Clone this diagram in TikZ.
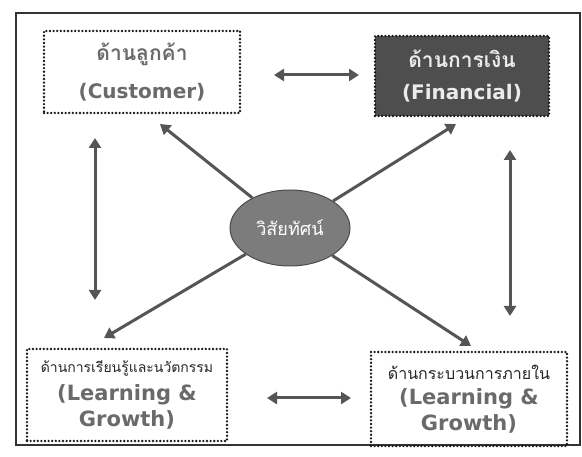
\documentclass[tikz,border=0pt]{standalone}
\usepackage{fontspec}
\newfontfamily\thaifont[Script=Thai]{Loma}
\newfontfamily\latfont{DejaVu Sans}
\usetikzlibrary{shapes.geometric,arrows.meta}
\definecolor{txtgray}{HTML}{6A6A6A}
\definecolor{arrgray}{HTML}{555555}
\definecolor{darkbox}{HTML}{4E4E4E}
\definecolor{ellgray}{HTML}{7C7C7C}
\tikzset{
  dotbox/.style={draw=black!90, line width=2.6pt, dash pattern=on 0pt off 3.6pt, line cap=round, align=center, inner sep=0pt},
  conn/.style={draw=arrgray, line width=3pt, -{Triangle[width=12pt,length=10pt]}},
  biconn/.style={draw=arrgray, line width=3pt, {Triangle[width=12pt,length=10pt]}-{Triangle[width=12pt,length=10pt]}}
}
\begin{document}
\begin{tikzpicture}[x=1pt,y=-1pt]
\useasboundingbox (0,0) rectangle (582,457);
\fill[white] (0,0) rectangle (582,457);
\node[draw=black!80, line width=1.5pt, minimum width=564pt, minimum height=432pt, inner sep=0pt] (frame) at (298,229) {};
% boxes
\node[dotbox, minimum width=196pt, minimum height=82pt, text=txtgray] (cust) at (142,72)
  {{\thaifont\bfseries\fontsize{21}{26}\selectfont ด้านลูกค้า}\\[16pt]{\latfont\bfseries\fontsize{20}{24}\selectfont (Customer)}};
\node[dotbox, fill=darkbox, minimum width=174pt, minimum height=80pt, text=white!92!black] (fin) at (462,76)
  {{\thaifont\bfseries\fontsize{21}{26}\selectfont ด้านการเงิน}\\[16pt]{\latfont\bfseries\fontsize{20}{24}\selectfont (Financial)}};
\node[dotbox, minimum width=200pt, minimum height=92pt, text=txtgray] (bl) at (127,395)
  {{\thaifont\color{black!85}\fontsize{14}{18}\selectfont ด้านการเรียนรู้และนวัตกรรม}\\[7pt]{\latfont\bfseries\fontsize{21}{26}\selectfont (Learning \&}\\[5pt]{\latfont\bfseries\fontsize{21}{26}\selectfont Growth)}};
\node[dotbox, minimum width=196pt, minimum height=94pt, text=txtgray] (br) at (469,399)
  {{\thaifont\color{black!85}\fontsize{16}{20}\selectfont ด้านกระบวนการภายใน}\\[8pt]{\latfont\bfseries\fontsize{21}{26}\selectfont (Learning \&}\\[4pt]{\latfont\bfseries\fontsize{21}{26}\selectfont Growth)}};
\node[ellipse, draw=black!70, line width=1pt, fill=ellgray, minimum width=120pt, minimum height=76pt, inner sep=0pt, text=white] (ell) at (290,228)
  {\thaifont\fontsize{18}{22}\selectfont วิสัยทัศน์};
% arrow end points
\coordinate (tA) at (160,124);
\coordinate (tB) at (456,124);
\coordinate (tC) at (104,338);
\coordinate (tD) at (471,346);
\coordinate (h1a) at (274,75);
\coordinate (h1b) at (359,75);
\coordinate (h2a) at (267,398);
\coordinate (h2b) at (351,398);
\coordinate (v1a) at (95,138);
\coordinate (v1b) at (95,300);
\coordinate (v2a) at (510,150);
\coordinate (v2b) at (510,316);
% connectors
\draw[conn] (ell) -- (tA);
\draw[conn] (ell) -- (tB);
\draw[conn] (ell) -- (tC);
\draw[conn] (ell) -- (tD);
\draw[biconn] (h1a) -- (h1b);
\draw[biconn] (h2a) -- (h2b);
\draw[biconn] (v1a) -- (v1b);
\draw[biconn] (v2a) -- (v2b);
\end{tikzpicture}
\end{document}
